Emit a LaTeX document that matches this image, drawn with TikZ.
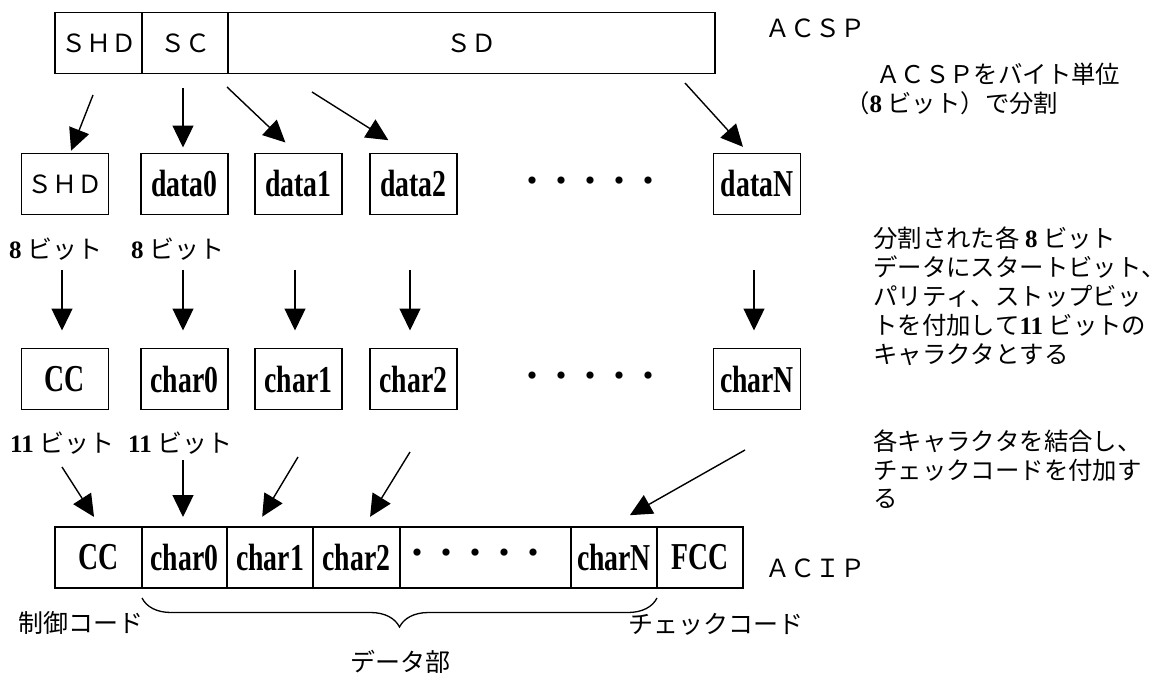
\documentclass[tikz,border=0pt]{standalone}
\usepackage{fontspec}
\setmainfont{Noto Sans CJK JP}[Kerning=Off]
\newfontfamily\lbl{Liberation Serif}[FakeStretch=0.73]
\newfontfamily\num{Liberation Serif}
\usetikzlibrary{arrows.meta,decorations.pathreplacing}
\newcommand\dotrow{・\kern-5pt・\kern-5pt・\kern-5pt・\kern-5pt・}
\newcommand\bnum[1]{{\num\bfseries\fontsize{25pt}{25pt}\selectfont #1}}

\begin{document}
\begin{tikzpicture}[x=1pt,y=-1pt,
    box/.style={draw,line width=1.3pt,minimum width=87pt,minimum height=61pt,
      inner sep=0pt,outer sep=0pt},
    lat/.style={font={\lbl\bfseries\fontsize{38pt}{38pt}\selectfont}},
    jp/.style={font={\fontsize{25pt}{29pt}\selectfont},inner sep=0pt},
    note/.style={font={\fontsize{24.4pt}{29pt}\selectfont},inner sep=0pt,anchor=west},
    dotf/.style={font={\fontsize{34pt}{34pt}\selectfont},inner sep=0pt},
    arr/.style={line width=1.4pt,-{Triangle[length=22pt,width=21pt]}}]
  \path[use as bounding box,fill=white] (0,0) rectangle (1167,677);

  %% ACSP
  \node[box,jp] (shd) at (98.5,43) {ＳＨＤ};
  \node[box,jp,minimum width=86pt] (sc) at (185,43) {ＳＣ};
  \node[box,jp,minimum width=487pt] (sd) at (471.5,43) {ＳＤ};
  \node[jp,anchor=west] (acsp) at (765,28) {ＡＣＳＰ};

  %% bytes
  \node[box,jp] (shdB) at (65,184) {ＳＨＤ};
  \node[box,lat] (d0) at (184.5,184) {data0};
  \node[box,lat] (d1) at (298.5,184) {data1};
  \node[box,lat] (d2) at (413.5,184) {data2};
  \node[dotf] (dotsA) at (590,185) {\dotrow};
  \node[box,lat] (dN) at (757,184) {dataN};

  \node[jp,anchor=west] (w8a) at (9,249) {\bnum{8} ビット};
  \node[jp,anchor=west] (w8b) at (131,249) {\bnum{8} ビット};

  %% characters
  \node[box,lat] (cc) at (65,379) {CC};
  \node[box,lat] (c0) at (184.5,379) {char0};
  \node[box,lat] (c1) at (298.5,379) {char1};
  \node[box,lat] (c2) at (413.5,379) {char2};
  \node[dotf] (dotsB) at (590,380) {\dotrow};
  \node[box,lat] (cN) at (757,379) {charN};

  \node[jp,anchor=west] (w11a) at (10,443) {\bnum{11} ビット};
  \node[jp,anchor=west] (w11b) at (128,443) {\bnum{11} ビット};

  %% ACIP
  \node[box,lat] (acc) at (98.5,557.5) {CC};
  \node[box,lat,minimum width=85pt] (ac0) at (184.5,557.5) {char0};
  \node[box,lat,minimum width=86pt] (ac1) at (270,557.5) {char1};
  \node[box,lat] (ac2) at (356.5,557.5) {char2};
  \node[box,dotf,minimum width=171pt] (adots) at (485.5,557.5) {\dotrow\hspace*{20pt}};
  \node[box,lat,minimum width=86pt] (acN) at (614,557.5) {charN};
  \node[box,lat,minimum width=86pt] (afcc) at (700,557.5) {FCC};
  \node[jp,anchor=west] (acip) at (765,568) {ＡＣＩＰ};

  \draw[decorate,decoration={brace,mirror,amplitude=29pt},line width=1.3pt]
    ([yshift=-10pt]ac0.south west) -- ([yshift=-10pt]acN.south east);
  \node[jp,anchor=west] (ctl) at (18,623) {制御コード};
  \node[jp,anchor=west] (chk) at (628,624) {チェックコード};
  \node[jp] (dpart) at (400,662) {データ部};

  %% split arrows
  \coordinate (s1) at (93,95);
  \coordinate (s2) at (183,88);
  \coordinate (s3) at (227,87);
  \coordinate (s4) at (312,92);
  \coordinate (s5) at (685,83);
  \draw[arr,shorten >=3pt] (s1) -- ([xshift=5pt]shdB.north);
  \draw[arr,shorten >=6pt] (s2) -- (s2 |- d0.north);
  \draw[arr,shorten >=16pt] (s3) -- ([xshift=-1.5pt]d1.north);
  \draw[arr,shorten >=25pt] (s4) -- ([xshift=-4pt]d2.north);
  \draw[arr,shorten >=9pt] (s5) -- ([xshift=-8pt]dN.north);

  %% framing arrows
  \coordinate (v1) at (62,270);
  \coordinate (v2) at (183,270);
  \coordinate (v3) at (295,270);
  \coordinate (v4) at (410,270);
  \coordinate (v5) at (754,270);
  \draw[arr,shorten >=18pt] (v1) -- (v1 |- cc.north);
  \draw[arr,shorten >=18pt] (v2) -- (v2 |- c0.north);
  \draw[arr,shorten >=18pt] (v3) -- (v3 |- c1.north);
  \draw[arr,shorten >=18pt] (v4) -- (v4 |- c2.north);
  \draw[arr,shorten >=18pt] (v5) -- (v5 |- cN.north);

  %% joining arrows
  \coordinate (j1) at (62,467);
  \coordinate (j2) at (183,460);
  \coordinate (j3) at (298,457);
  \coordinate (j4) at (410,452);
  \coordinate (j5) at (745,450);
  \draw[arr,shorten >=12pt] (j1) -- ([xshift=2pt]acc.north);
  \draw[arr,shorten >=10pt] (j2) -- (j2 |- ac0.north);
  \draw[arr,shorten >=12pt] (j3) -- ([xshift=-14pt]ac1.north);
  \draw[arr,shorten >=12pt] (j4) -- ([xshift=7.3pt]ac2.north);
  \draw[arr,shorten >=24pt] (j5) -- ([xshift=-5pt]acN.north);

  %% notes
  \node[note] (n1a) at (876,74) {ＡＣＳＰをバイト単位};
  \node[note] (n1b) at (845,103) {（\bnum{8} ビット）で分割};

  \node[note] (n2a) at (873,238) {分割された各\ \bnum{8}\ ビット};
  \node[note] (n2b) at (873,267) {データにスタートビット、};
  \node[note] (n2c) at (873,296) {パリティ、ストップビッ};
  \node[note] (n2d) at (873,325) {トを付加して\bnum{11} ビットの};
  \node[note] (n2e) at (873,355) {キャラクタとする};

  \node[note] (n3a) at (873,441) {各キャラクタを結合し、};
  \node[note] (n3b) at (873,470) {チェックコードを付加す};
  \node[note] (n3c) at (873,499) {る};
\end{tikzpicture}
\end{document}
